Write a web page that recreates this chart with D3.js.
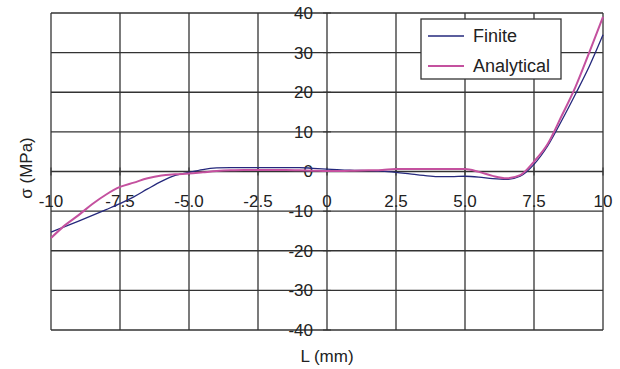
<!DOCTYPE html>
<html>
<head>
<meta charset="utf-8">
<script src="https://cdn.jsdelivr.net/npm/d3@7"></script>
<style>
  body { margin: 0; background: #fff; }
  text { font-family: "Liberation Sans", Arial, sans-serif; fill: #222; }
</style>
</head>
<body>
<script>
// values
var xFinite = [-10, -9, -8, -7.5, -7, -6.5, -6, -5.5, -5, -4.5, -4, -3.5, -3, -2.5, -2, -1.5, -1, -0.5, 0, 0.5, 1, 1.5, 2, 2.5, 3, 3.5, 4, 4.5, 5, 5.5, 6, 6.5, 7, 7.5, 8, 8.5, 9, 9.5, 10];
var yFinite = [-15.3, -12.5, -9.6, -8.1, -6.4, -4.4, -2.5, -1.0, -0.2, 0.5, 0.9, 1.0, 1.0, 1.0, 1.0, 1.0, 1.0, 0.8, 0.6, 0.4, 0.3, 0.2, 0.1, -0.2, -0.6, -1.0, -1.3, -1.3, -1.2, -1.4, -1.8, -2.0, -1.2, 1.8, 6.5, 12.8, 19.5, 26.5, 34.5];
var xAnalytical = [-10, -9.5, -9, -8.5, -8, -7.5, -7, -6.5, -6, -5.5, -5, -4.5, -4, -3.5, -3, -2.5, -2, -1.5, -1, -0.5, 0, 0.5, 1, 1.5, 2, 2.5, 3, 3.5, 4, 4.5, 5, 5.5, 6, 6.5, 7, 7.5, 8, 8.5, 9, 9.5, 10];
var yAnalytical = [-16.8, -13.6, -11.0, -8.2, -5.8, -3.9, -2.8, -1.7, -1.0, -0.7, -0.5, -0.2, 0.1, 0.3, 0.4, 0.4, 0.4, 0.4, 0.3, 0.2, 0.1, 0.1, 0.2, 0.3, 0.4, 0.6, 0.6, 0.6, 0.6, 0.6, 0.6, -0.1, -1.1, -1.7, -0.9, 2.5, 7.0, 14.0, 21.3, 30.0, 39.0];
var xTicks = [-10, -7.5, -5, -2.5, 0, 2.5, 5, 7.5, 10];
var xTickLabels = ["-10", "-7.5", "-5.0", "-2.5", "0", "2.5", "5.0", "7.5", "10"];
var yTicks = [40, 30, 20, 10, 0, -10, -20, -30, -40];
var seriesNames = ["Finite", "Analytical"];
var seriesColors = ["#25287c", "#c4519f"];

var width = 620, height = 369;
var plotLeft = 51, plotRight = 603, plotTop = 13, plotBottom = 330;

var svg = d3.select("body")
    .append("svg")
    .attr("width", width)
    .attr("height", height)
    .style("font-size", "17px");

var x = d3.scaleLinear().domain([-10, 10]).range([plotLeft, plotRight]);
var y = d3.scaleLinear().domain([-40, 40]).range([plotBottom, plotTop]);

// grid
svg.selectAll("vgrid")
    .data(xTicks)
    .enter()
    .append("line")
    .attr("x1", function(d) { return x(d); })
    .attr("x2", function(d) { return x(d); })
    .attr("y1", plotTop)
    .attr("y2", plotBottom)
    .attr("stroke", "#333")
    .attr("stroke-width", 1.3);
svg.selectAll("hgrid")
    .data(yTicks)
    .enter()
    .append("line")
    .attr("x1", plotLeft)
    .attr("x2", plotRight)
    .attr("y1", function(d) { return y(d); })
    .attr("y2", function(d) { return y(d); })
    .attr("stroke", "#333")
    .attr("stroke-width", 1.3);

// small cross ticks on the axes through zero
svg.selectAll("ytick")
    .data(yTicks)
    .enter()
    .append("line")
    .attr("x1", x(0) - 4)
    .attr("x2", x(0) + 4)
    .attr("y1", function(d) { return y(d); })
    .attr("y2", function(d) { return y(d); })
    .attr("stroke", "#333");
svg.selectAll("xtick")
    .data(xTicks)
    .enter()
    .append("line")
    .attr("x1", function(d) { return x(d); })
    .attr("x2", function(d) { return x(d); })
    .attr("y1", y(0) - 4)
    .attr("y2", y(0) + 4)
    .attr("stroke", "#333");

// tick labels
svg.selectAll("ylab")
    .data(yTicks)
    .enter()
    .append("text")
    .attr("x", x(0) - 14)
    .attr("y", function(d) { return y(d); })
    .attr("dy", "0.35em")
    .attr("text-anchor", "end")
    .text(function(d) { return d; });
svg.selectAll("xlab")
    .data(xTicks)
    .enter()
    .append("text")
    .attr("x", function(d) { return x(d); })
    .attr("y", 207)
    .attr("text-anchor", "middle")
    .text(function(d, i) { return xTickLabels[i]; });

// lines
var line = d3.line()
    .x(function(d) { return x(d[0]); })
    .y(function(d) { return y(d[1]); })
    .curve(d3.curveMonotoneX);

svg.append("path")
    .datum(d3.zip(xFinite, yFinite))
    .attr("fill", "none")
    .attr("stroke", seriesColors[0])
    .attr("stroke-width", 1.3)
    .attr("d", line);
svg.append("path")
    .datum(d3.zip(xAnalytical, yAnalytical))
    .attr("fill", "none")
    .attr("stroke", seriesColors[1])
    .attr("stroke-width", 2)
    .attr("d", line);

// axis titles
svg.append("text")
    .attr("x", 327)
    .attr("y", 362)
    .attr("text-anchor", "middle")
    .text("L (mm)");
svg.append("text")
    .attr("transform", "translate(32,168) rotate(-90)")
    .attr("text-anchor", "middle")
    .text("σ (MPa)");

// legend
svg.append("rect")
    .attr("x", 421)
    .attr("y", 19)
    .attr("width", 140)
    .attr("height", 60)
    .attr("fill", "#fff")
    .attr("stroke", "#333")
    .attr("stroke-width", 1.3);
seriesNames.forEach(function(name, i) {
    var ly = 36 + i * 30;
    svg.append("line")
        .attr("x1", 428).attr("x2", 464)
        .attr("y1", ly).attr("y2", ly)
        .attr("stroke", seriesColors[i])
        .attr("stroke-width", i == 0 ? 1.3 : 2);
    svg.append("text")
        .attr("x", 473)
        .attr("y", ly)
        .attr("dy", "0.35em")
        .style("font-size", "18px")
        .text(name);
});
</script>
</body>
</html>
